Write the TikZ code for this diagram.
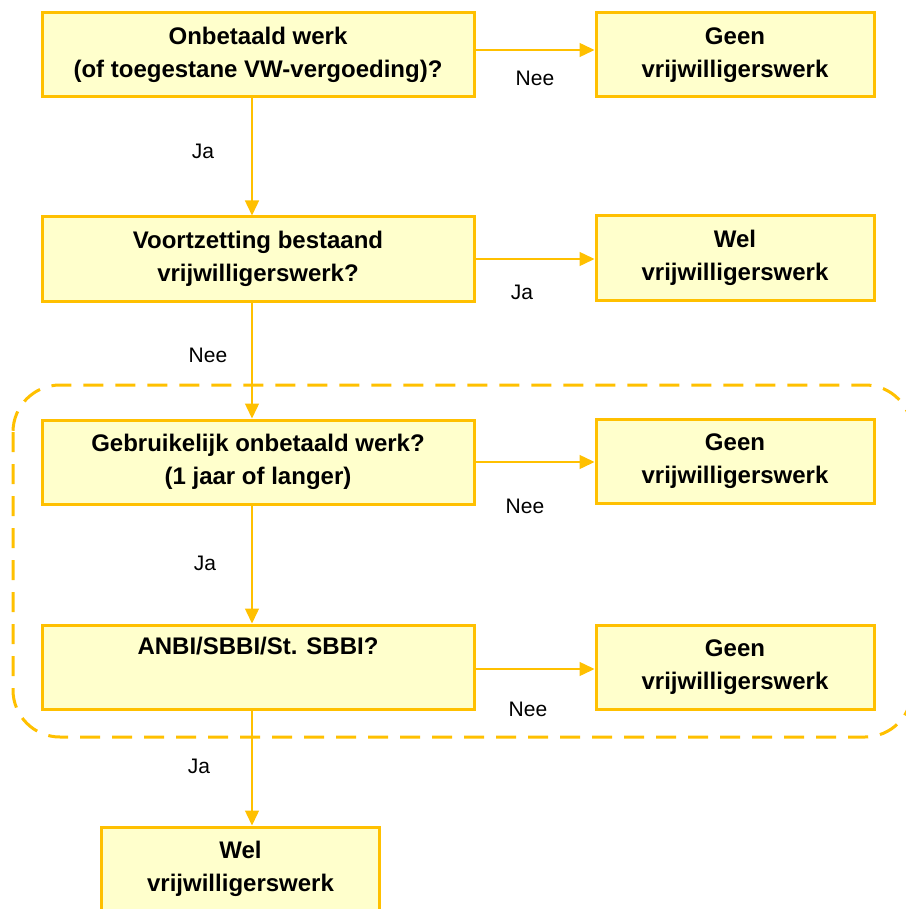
\documentclass[tikz,border=0pt]{standalone}
\usepackage{fontspec}
\setmainfont{Liberation Sans}
\usetikzlibrary{arrows.meta}
\definecolor{kader}{RGB}{255,192,0}
\definecolor{vulling}{RGB}{255,255,204}
\tikzset{>={Triangle[length=7.5pt,width=7pt]}}
\tikzset{
	vak/.style={draw=kader, fill=vulling, text=black, line width=1.5pt, align=center,
		font=\fontsize{12}{16.5}\selectfont\bfseries, minimum height=42pt, inner sep=0pt},
	vraag/.style={vak, minimum width=216pt},
	uitkomst/.style={vak, minimum width=139pt},
	antwoord/.style={text=black, font=\fontsize{10.5}{12}\selectfont, inner sep=0pt},
}

\begin{document}
\begin{tikzpicture}[kader, line width=0.7pt, x=0.5pt, y=-0.5pt]
	\useasboundingbox (0,0) rectangle (905,909);

	% kader rond de laatste twee vragen
	\draw[line width=1.5pt, dash pattern=on 10pt off 6pt, rounded corners=23.5pt] (13,385) rectangle (912,737);

	\node[vraag] (onbetaald) at (258,55) {Onbetaald werk\\(of toegestane VW-vergoeding)?};
	\node[uitkomst] (geen1) at (735,55) {Geen\\vrijwilligerswerk};

	\node[vraag] (voortzetting) at (258,259) {Voortzetting bestaand\\vrijwilligerswerk?};
	\node[uitkomst] (wel1) at (735,258) {Wel\\vrijwilligerswerk};

	\node[vraag] (gebruikelijk) at (258,462) {Gebruikelijk onbetaald werk?\\(1 jaar of langer)};
	\node[uitkomst] (geen2) at (735,461) {Geen\\vrijwilligerswerk};

	\node[vraag] (anbi) at (258,667) {ANBI/SBBI/St. SBBI?\\\strut};
	\node[uitkomst] (geen3) at (735,667) {Geen\\vrijwilligerswerk};

	\node[uitkomst] (wel2) at (240.5,869) {Wel\\vrijwilligerswerk};

	\coordinate (as) at (252,0);

	\draw[->] ([yshift=2.5pt]onbetaald.east) -- node[antwoord, yshift=-14pt]{Nee} ([yshift=2.5pt]geen1.west);
	\draw[->] (onbetaald.south -| as) -- node[antwoord, pos=0.45, xshift=-24.5pt]{Ja} (voortzetting.north -| as);

	\draw[->] (voortzetting.east) -- node[antwoord, xshift=-6.5pt, yshift=-16.5pt]{Ja} (voortzetting.east -| wel1.west);
	\draw[->] (voortzetting.south -| as) -- node[antwoord, pos=0.46, xshift=-22pt]{Nee} (gebruikelijk.north -| as);

	\draw[->] (gebruikelijk.east) -- node[antwoord, xshift=-5pt, yshift=-22pt]{Nee} (gebruikelijk.east -| geen2.west);
	\draw[->] (gebruikelijk.south -| as) -- node[antwoord, pos=0.49, xshift=-23.5pt]{Ja} (anbi.north -| as);

	\draw[->] ([yshift=-1pt]anbi.east) -- node[antwoord, xshift=-3.5pt, yshift=-20pt]{Nee} ([yshift=-1pt]geen3.west);
	\draw[->] (anbi.south -| as) -- node[antwoord, pos=0.49, xshift=-26.5pt]{Ja} (wel2.north -| as);

\end{tikzpicture}
\end{document}
